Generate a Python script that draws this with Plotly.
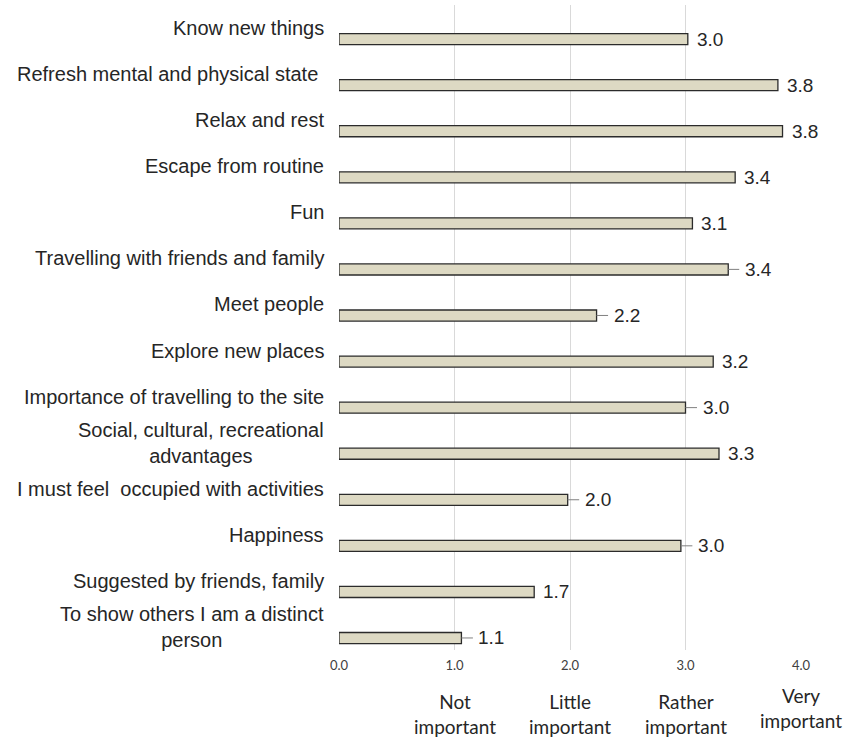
import plotly.graph_objects as go

# ---- data (top to bottom) ----
categories = [
    "Know new things",
    "Refresh mental and physical state ",
    "Relax and rest",
    "Escape from routine",
    "Fun",
    "Travelling with friends and family",
    "Meet people",
    "Explore new places",
    "Importance of travelling to the site",
    "Social, cultural, recreational<br>advantages",
    "I must feel  occupied with activities",
    "Happiness",
    "Suggested by friends, family",
    "To show others I am a distinct<br>person",
]
values = [3.02, 3.80, 3.84, 3.43, 3.06, 3.37, 2.23, 3.24, 3.00, 3.29, 1.98, 2.96, 1.69, 1.06]

x_ticks = [0, 1, 2, 3, 4]
scale_values = [1, 2, 3, 4]
scale_labels = ["Not<br>important", "Little<br>important", "Rather<br>important", "Very<br>important"]

# ---- style ----
LEADER = {
    "Travelling with friends and family",
    "Meet people",
    "Importance of travelling to the site",
    "I must feel  occupied with activities",
    "Happiness",
    "To show others I am a distinct<br>person",
}
SCALE_SHIFT = [-64, -64, -64, -58]
BAR_FILL = "#ddd9c3"
BAR_LINE = "#2b2b2b"
TEXT = "#262626"
LABEL_FONT = "Liberation Sans, Arial, sans-serif"
BAR_SHIFT_PX = -11


def nb(s):
    return s.replace(" ", "\u00a0")


fig = go.Figure()
fig.add_trace(go.Bar(
    orientation="h",
    x=values,
    y=categories,
    width=0.24,
    offset=0.12,
    marker=dict(color=BAR_FILL, line=dict(color=BAR_LINE, width=1.3)),
    hoverinfo="x+y",
    showlegend=False,
))

annotations = []
for cat in categories:
    annotations.append(dict(
        text=nb(cat), xref="paper", x=0, yref="y", y=cat,
        xanchor="right", yanchor="middle", xshift=-13, align="center",
        showarrow=False, font=dict(family=LABEL_FONT, size=20, color=TEXT),
    ))

for cat, v in zip(categories, values):
    lbl = f"{v:.1f}"
    if cat in LEADER:
        annotations.append(dict(
            text=lbl, xref="x", x=v, yref="y", y=cat, yshift=BAR_SHIFT_PX,
            showarrow=True, ax=30, ay=0, arrowhead=0, arrowwidth=1,
            arrowcolor="#808080", standoff=0, startstandoff=4,
            font=dict(family=LABEL_FONT, size=19, color=TEXT),
        ))
    else:
        annotations.append(dict(
            text=lbl, xref="x", x=v, yref="y", y=cat, yshift=BAR_SHIFT_PX,
            xanchor="left", yanchor="middle", xshift=7, showarrow=False,
            font=dict(family=LABEL_FONT, size=19, color=TEXT),
        ))

for xv, txt, sh in zip(scale_values, scale_labels, SCALE_SHIFT):
    annotations.append(dict(
        text=txt, xref="x", x=xv, yref="paper", y=0, yshift=sh,
        xanchor="center", yanchor="middle", align="center", showarrow=False,
        font=dict(family="Lato, Open Sans, sans-serif", size=19, color=TEXT),
    ))

fig.update_layout(
    width=845, height=738,
    margin=dict(l=339, r=44, t=5, b=88),
    paper_bgcolor="white", plot_bgcolor="white",
    annotations=annotations,
    xaxis=dict(
        range=[0, 4], tickvals=x_ticks, tickformat=".1f",
        showgrid=True, gridcolor="#d9d9d9", gridwidth=1,
        zeroline=False, showline=False, ticks="", ticklabelstandoff=6,
        tickfont=dict(family="Lato, sans-serif", size=13, color="#404040"),
    ),
    yaxis=dict(
        type="category", range=[len(categories) - 0.5, -0.5],
        showticklabels=False, showgrid=False, zeroline=False, showline=False, ticks="",
    ),
)

fig.write_html("out.html")
